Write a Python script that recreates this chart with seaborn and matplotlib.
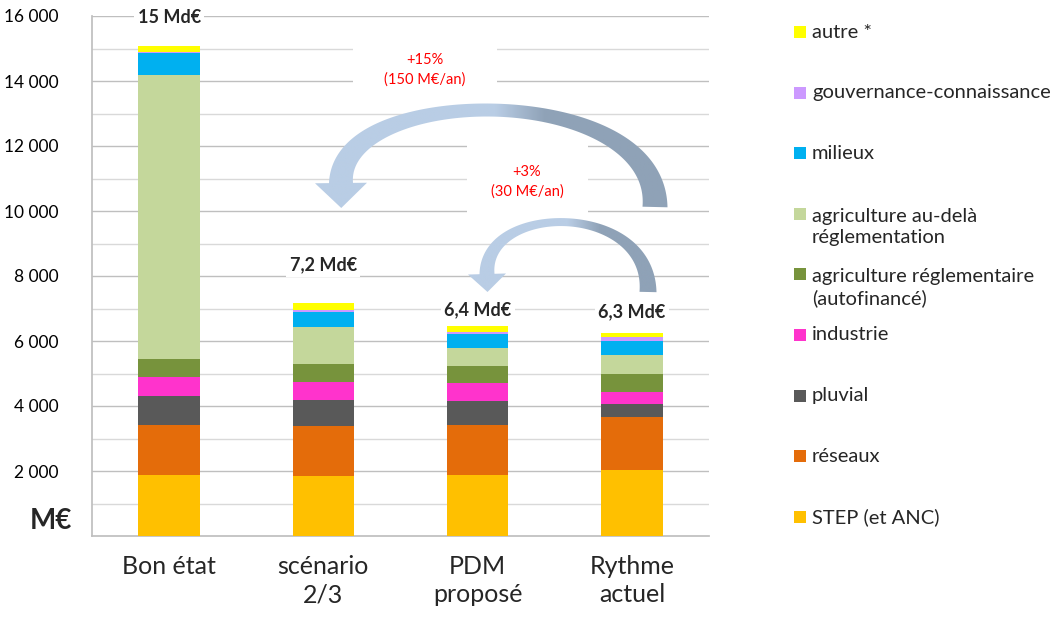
import numpy as np
import pandas as pd
import matplotlib
matplotlib.use("Agg")
import matplotlib.pyplot as plt
import seaborn as sns
from matplotlib.patches import Polygon, Rectangle
from matplotlib.colors import LinearSegmentedColormap

# ---------------- data ----------------
categories = ["Bon état", "scénario\n2/3", "PDM\nproposé", "Rythme\nactuel"]
series_names = ["STEP (et ANC)", "réseaux", "pluvial", "industrie",
                "agriculture réglementaire\n(autofinancé)",
                "agriculture au-delà\nréglementation", "milieux",
                "gouvernance-connaissance", "autre *"]
step = [1870, 1850, 1870, 2020]
reseaux = [1540, 1550, 1540, 1630]
pluvial = [900, 800, 740, 400]
industrie = [590, 540, 550, 390]
agri_regl = [550, 550, 530, 540]
agri_audela = [8740, 1150, 570, 580]
milieux = [660, 450, 430, 440]
gouvernance = [50, 50, 50, 110]
autre = [190, 220, 180, 130]
total_labels = ["15 Md€", "7,2 Md€", "6,4 Md€", "6,3 Md€"]
ytick_values = [2000, 4000, 6000, 8000, 10000, 12000, 14000, 16000]
ytick_labels = ["2 000", "4 000", "6 000", "8 000", "10 000", "12 000", "14 000", "16 000"]
arrow_texts = [("+15%", "(150 M€/an)"), ("+3%", "(30 M€/an)")]

colors = ["#FFC000", "#E46C0A", "#595959", "#FF33CC", "#77933C",
          "#C4D79B", "#00B0F0", "#CC99FF", "#FFFF00"]
series = [step, reseaux, pluvial, industrie, agri_regl, agri_audela,
          milieux, gouvernance, autre]

# ---------------- style ----------------
sns.set_theme(style="white")
FONT = ["Lato", "DejaVu Sans"]
plt.rcParams["font.family"] = FONT

W, H = 1053, 619
fig = plt.figure(figsize=(W / 100, H / 100), dpi=100)
ax = fig.add_axes([92 / W, 1 - 536 / H, (709 - 92) / W, (536 - 16) / H])

df = pd.DataFrame({"cat": categories})
cum = np.zeros(len(categories))
cums = []
for s in series:
    cum = cum + np.array(s, dtype=float)
    cums.append(cum.copy())

# draw from the top of the stack down so each layer overlays the next
for i in range(len(series) - 1, -1, -1):
    d = df.assign(val=cums[i])
    sns.barplot(data=d, x="cat", y="val", color=colors[i], saturation=1,
                width=0.4, ax=ax, zorder=3, linewidth=0, errorbar=None)

ax.set_xlim(-0.5, len(categories) - 0.5)
ax.set_ylim(0, 16000)
ax.set_xlabel("")
ax.set_ylabel("")

# grid
for v in range(1000, 16001, 1000):
    ax.axhline(v, color="#BFBFBF" if v % 2000 == 0 else "#D9D9D9",
               lw=1.0, zorder=1)
ax.set_yticks(ytick_values)
ax.set_yticklabels(ytick_labels, fontsize=12.5, color="#000000")
ax.tick_params(axis="y", length=6, color="#A6A6A6", width=1, pad=18)
for lab in ax.get_yticklabels():
    lab.set_horizontalalignment("right")

ax.set_xticks(range(len(categories)))
ax.set_xticklabels(categories, fontsize=18, linespacing=1.25)
ax.tick_params(axis="x", length=0, pad=14)
ax.set_xticks(np.arange(-0.5, len(categories), 1.0), minor=True)
ax.tick_params(axis="x", which="minor", length=10, color="#BFBFBF", width=1)

for sp in ["top", "right"]:
    ax.spines[sp].set_visible(False)
ax.spines["left"].set_color("#BFBFBF")
ax.spines["bottom"].set_color("#BFBFBF")
ax.spines["left"].set_zorder(4)

# totals
label_y = [15950, 8350, 6950, 6900]
for i, t in enumerate(total_labels):
    ax.text(i, label_y[i], t, ha="center", va="center", fontsize=13,
            fontweight="bold", zorder=6,
            bbox=dict(facecolor="white", edgecolor="none", pad=2.5))

# ---------------- overlay (pixel coords) ----------------
ov = fig.add_axes([0, 0, 1, 1], zorder=5)
ov.set_xlim(0, W)
ov.set_ylim(H, 0)
ov.axis("off")
ov.patch.set_alpha(0)

fig.text(72 / W, 1 - 521 / H, "M€", ha="right", va="center",
         fontsize=20, fontweight="bold")

# white masks behind arrow texts
ov.add_patch(Rectangle((353, 40), 144, 52, facecolor="white", edgecolor="none", zorder=1))
ov.add_patch(Rectangle((467, 138), 121, 76, facecolor="white", edgecolor="none", zorder=1))


def bez(P, t):
    P = np.asarray(P, float)
    t = t[:, None]
    return ((1 - t) ** 3) * P[0] + 3 * ((1 - t) ** 2) * t * P[1] + 3 * (1 - t) * t ** 2 * P[2] + t ** 3 * P[3]


def dbez(P, t):
    P = np.asarray(P, float)
    t = t[:, None]
    return 3 * (1 - t) ** 2 * (P[1] - P[0]) + 6 * (1 - t) * t * (P[2] - P[1]) + 3 * t ** 2 * (P[3] - P[2])


def curved_arrow(P, w0, wm, w1, hw, hl, gx0, gx1, c_light, c_dark):
    t = np.linspace(0, 1, 200)
    B = bez(P, t)
    D = dbez(P, t)
    D = D / np.linalg.norm(D, axis=1)[:, None]
    N = np.stack([-D[:, 1], D[:, 0]], axis=1)
    w = w0 * (1 - t) + w1 * t - ((w0 + w1) / 2 - wm) * np.sin(np.pi * t)
    left = B + N * (w / 2)[:, None]
    right = B - N * (w / 2)[:, None]
    end, T, Ne = B[-1], D[-1], N[-1]
    pts = np.vstack([left, [end + Ne * hw], [end + T * hl], [end - Ne * hw], right[::-1]])
    poly = Polygon(pts, closed=True, facecolor="none", edgecolor="none",
                   transform=ov.transData)
    ov.add_patch(poly)
    xs = pts[:, 0]
    ys = pts[:, 1]
    x0, x1 = xs.min() - 2, xs.max() + 2
    grad = np.linspace(x0, x1, 400)
    vals = np.clip((grad - gx0) / (gx1 - gx0), 0, 1)[None, :]
    cmap = LinearSegmentedColormap.from_list("g", [c_light, c_dark])
    im = ov.imshow(vals, extent=(x0, x1, ys.max() + 2, ys.min() - 2), cmap=cmap,
                   vmin=0, vmax=1, aspect="auto", zorder=2, interpolation="bilinear")
    im.set_clip_path(poly)


LIGHT = "#B9CDE5"
DARK = "#8FA2B7"
curved_arrow([(655, 207), (658, 82), (340, 82), (341, 183)], 25, 13, 24, 26, 25,
             495, 545, LIGHT, DARK)
curved_arrow([(648, 292), (650, 202), (485, 202), (487, 274)], 17, 8, 15, 19, 18,
             567, 600, LIGHT, DARK)
ov.set_xlim(0, W)
ov.set_ylim(H, 0)

# arrow texts
ov.text(425, 60, arrow_texts[0][0], color="#FF0000", fontsize=10.5, ha="center", va="center", zorder=3)
ov.text(425, 80, arrow_texts[0][1], color="#FF0000", fontsize=10.5, ha="center", va="center", zorder=3)
ov.text(527, 172, arrow_texts[1][0], color="#FF0000", fontsize=10.5, ha="center", va="center", zorder=3)
ov.text(527, 192, arrow_texts[1][1], color="#FF0000", fontsize=10.5, ha="center", va="center", zorder=3)

# legend (top entry = last series)
for k, i in enumerate(range(len(series) - 1, -1, -1)):
    y = 32 + 60.6 * k
    ov.add_patch(Rectangle((794, y - 6), 12, 12, facecolor=colors[i], edgecolor="none", zorder=3))
    name = series_names[i]
    nlines = name.count("\n") + 1
    ov.text(812, y + 13.2 * (nlines - 1), name, ha="left", va="center",
            fontsize=14.5, linespacing=1.3, zorder=3)

fig.savefig("out.png", dpi=100, facecolor="white")
